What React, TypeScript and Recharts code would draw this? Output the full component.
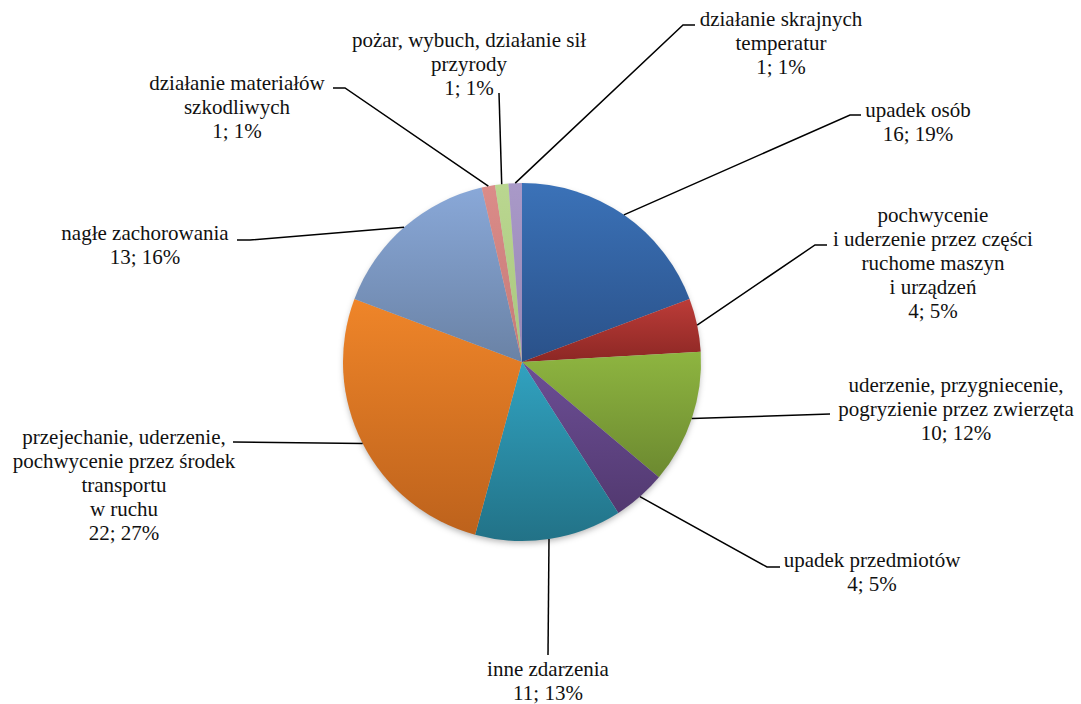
import { PieChart, Pie, Cell } from "recharts";

// slices clockwise from 12 o'clock
const categories = [
  "upadek osób",
  "pochwycenie i uderzenie przez części ruchome maszyn i urządzeń",
  "uderzenie, przygniecenie, pogryzienie przez zwierzęta",
  "upadek przedmiotów",
  "inne zdarzenia",
  "przejechanie, uderzenie, pochwycenie przez środek transportu w ruchu",
  "nagłe zachorowania",
  "działanie materiałów szkodliwych",
  "pożar, wybuch, działanie sił przyrody",
  "działanie skrajnych temperatur",
];

const counts = [16, 4, 10, 4, 11, 22, 13, 1, 1, 1];

// how each category name is wrapped in its label
const nameLines = [
  ["upadek osób"],
  ["pochwycenie", "i uderzenie przez części", "ruchome maszyn", "i urządzeń"],
  ["uderzenie, przygniecenie,", "pogryzienie przez zwierzęta"],
  ["upadek przedmiotów"],
  ["inne zdarzenia"],
  ["przejechanie, uderzenie,", "pochwycenie przez środek", "transportu", "w ruchu"],
  ["nagłe zachorowania"],
  ["działanie materiałów", "szkodliwych"],
  ["pożar, wybuch, działanie sił", "przyrody"],
  ["działanie skrajnych", "temperatur"],
];

const colorTop = [
  "#3B72B8", "#BC3C38", "#8EB540", "#6C4E95", "#31A2C0",
  "#EF8529", "#89A8D8", "#DB8C89", "#BAD790", "#A999C8",
];
const colorBottom = [
  "#2A5189", "#8C2724", "#6C8930", "#523970", "#227287",
  "#BD621C", "#6A82A5", "#C57A77", "#A9C67E", "#9787B5",
];

const data = categories.map((name, i) => ({ name, value: counts[i] }));

// label layout, offsets from the pie centre: leader elbow, horizontal tail,
// text block (centre x, first baseline y)
const labelLayout = [
  { elbow: [328, -247], tail: 11, text: [396, -245] },
  { elbow: [293, -117], tail: 12, text: [411, -140] },
  { elbow: [308, 52], tail: 0, text: [434, 30] },
  { elbow: [245, 205], tail: 13, text: [350, 205] },
  { elbow: [26, 293], tail: 0, text: [26, 314] },
  { elbow: [-289, 80], tail: 0, text: [-398, 82] },
  { elbow: [-272, -122], tail: -13, text: [-377, -122] },
  { elbow: [-177, -274], tail: -12, text: [-285, -272] },
  { elbow: [-23, -269], tail: 0, text: [-53, -315] },
  { elbow: [161, -337], tail: 12, text: [259, -336] },
];

const RADIAN = Math.PI / 180;
const LINE_H = 24;
const SERIF = "Liberation Serif";

const css = `
html body #root .recharts-wrapper svg text.pie-lbl,
html body #root .recharts-wrapper svg text.pie-lbl tspan {
  font-family: "Liberation Serif", "Times New Roman", serif !important;
  font-size: 21px !important;
}
`;

// force the serif face even if a stylesheet overrides svg text fonts
const forceSerif = (el: SVGElement | null) => {
  if (el) {
    el.style.setProperty("font-family", '"Liberation Serif", "Times New Roman", serif', "important");
    el.style.setProperty("font-size", "21px", "important");
  }
};

function renderLabel(props: any) {
  const { cx, cy, midAngle, outerRadius, value, percent } = props;
  const index = props.index ?? categories.indexOf(props.name);
  const p = labelLayout[index];
  const sx = cx + outerRadius * Math.cos(-midAngle * RADIAN);
  const sy = cy + outerRadius * Math.sin(-midAngle * RADIAN);
  const ex = cx + p.elbow[0];
  const ey = cy + p.elbow[1];
  const pts = [`${sx},${sy}`, `${ex},${ey}`];
  if (p.tail) pts.push(`${ex + p.tail},${ey}`);
  const tx = cx + p.text[0];
  const ty = cy + p.text[1];
  const lines = [...nameLines[index], `${value}; ${Math.round(percent * 100)}%`];
  return (
    <g key={`lbl-${index}`}>
      <polyline points={pts.join(" ")} fill="none" stroke="#000" strokeWidth={1.5} />
      <text
        ref={forceSerif}
        className="pie-lbl"
        x={tx}
        y={ty}
        textAnchor="middle"
        fill="#111"
        fontSize={21}
        fontFamily={SERIF}
      >
        {lines.map((l, k) => (
          <tspan ref={forceSerif} key={k} x={tx} y={ty + k * LINE_H}>
            {l}
          </tspan>
        ))}
      </text>
    </g>
  );
}

export default function App() {
  return (
    <div style={{ position: "absolute", left: 0, top: 0, width: 1081, height: 704, background: "#fff" }}>
      <style>{css}</style>
      <PieChart width={1081} height={704} margin={{ top: 0, right: 0, bottom: 0, left: 0 }}>
        <defs>
          {colorTop.map((c, i) => (
            <linearGradient key={i} id={`slice-grad-${i}`} x1="0" y1="0" x2="0" y2="1">
              <stop offset="0%" stopColor={c} />
              <stop offset="100%" stopColor={colorBottom[i]} />
            </linearGradient>
          ))}
          <filter id="pie-shadow" x="-10%" y="-10%" width="120%" height="125%">
            <feDropShadow dx="0" dy="3" stdDeviation="3" floodColor="#000" floodOpacity="0.3" />
          </filter>
        </defs>
        <Pie
          data={[{ name: "shadow", value: 1 }]}
          dataKey="value"
          cx={522}
          cy={362}
          outerRadius={178}
          stroke="none"
          fill="#ccc"
          style={{ filter: "url(#pie-shadow)" }}
          isAnimationActive={false}
        />
        <Pie
          data={data}
          dataKey="value"
          nameKey="name"
          cx={522}
          cy={362}
          outerRadius={179}
          startAngle={90}
          endAngle={-270}
          stroke="none"
          labelLine={false}
          label={renderLabel}
          isAnimationActive={false}
        >
          {data.map((_, i) => (
            <Cell key={i} fill={`url(#slice-grad-${i})`} />
          ))}
        </Pie>
      </PieChart>
    </div>
  );
}
